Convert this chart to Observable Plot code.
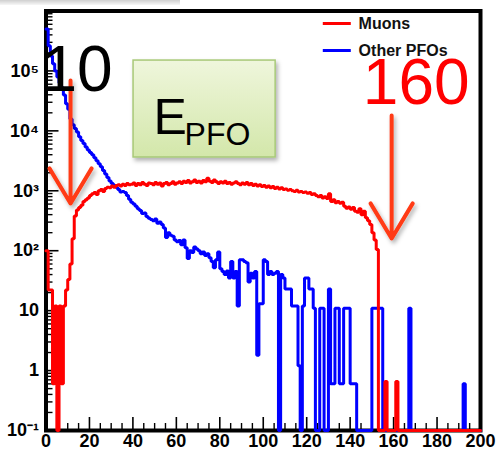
<!DOCTYPE html>
<html><head><meta charset="utf-8">
<script src="https://cdn.jsdelivr.net/npm/d3@7"></script>
<script src="https://cdn.jsdelivr.net/npm/@observablehq/plot@0.6"></script>
<style>
html,body{margin:0;padding:0;background:#fff;}
#chart{position:relative;width:500px;height:451px;overflow:hidden;}
#shade{position:absolute;left:0;top:0;width:180px;height:5px;background:linear-gradient(to bottom,#cfcfcf,#f7f7f7);z-index:2;}
</style></head><body>
<div id="chart"><div id="shade"></div></div>
<script>
// ---- histogram binning (E_PFO, GeV) ----
const binLow = 0, binWidth = 1, nBins = 200;

// ---- series values (bin contents) ----
const otherPFOs = [
  500000, 263000, 178000, 132000, 100000, 79400, 63100, 52500, 39800, 28200,
  22900, 15800, 12600, 11000, 9550, 7940, 6920, 6170, 5370, 4790,
  4370, 3980, 3550, 3160, 2820, 2510, 2190, 1910, 1660, 1450,
  1320, 1230, 1150, 1050, 955, 977, 933, 832, 724, 646,
  603, 550, 501, 468, 417, 427, 372, 347, 331, 316,
  339, 288, 302, 275, 240, 166, 200, 182, 174, 151,
  141, 148, 126, 151, 112, 74, 100, 93, 115, 107,
  100, 89, 95, 83, 89, 76, 66, 52, 71, 95,
  50, 45, 40, 46, 35, 66, 35, 45, 12, 71,
  71, 66, 63, 30, 42, 35, 45, 1.8, 13, 13,
  71, 66, 40, 45, 40, 42, 45, 0, 40, 35,
  23, 23, 23, 12, 12, 12, 1.2, 0, 12, 35,
  35, 23, 23, 11, 0, 0, 11, 11, 0, 0,
  23, 0.6, 0.6, 11, 11, 0.6, 0.6, 11, 11, 11,
  0.6, 0.6, 0.6, 0, 0, 0, 0, 0, 0, 0,
  11, 11, 11, 11, 11, 0, 0, 0, 0, 0,
  0, 0, 0, 0, 0, 0, 0, 11, 0, 0,
  0, 0, 0, 0, 0, 0, 0, 0, 0, 0,
  0, 0, 0, 0, 0, 0, 0, 0, 0, 0,
  0, 0, 0.6, 0, 0, 0, 0, 0, 0, 0
];
const muons = [
  100, 22, 22, 0.6, 12, 0, 12, 0.6, 12, 22,
  33, 60, 158, 380, 479, 525, 575, 661, 708, 759,
  832, 891, 933, 871, 1000, 1047, 977, 1096, 1148, 1122,
  1202, 1148, 1230, 1259, 1202, 1288, 1230, 1318, 1259, 1288,
  1349, 1230, 1318, 1259, 1380, 1288, 1230, 1349, 1318, 1259,
  1380, 1288, 1349, 1202, 1318, 1380, 1259, 1318, 1413, 1288,
  1349, 1413, 1318, 1445, 1380, 1479, 1349, 1413, 1514, 1380,
  1445, 1349, 1479, 1413, 1622, 1445, 1380, 1514, 1413, 1318,
  1413, 1349, 1445, 1318, 1380, 1288, 1349, 1413, 1318, 1259,
  1349, 1288, 1380, 1259, 1318, 1230, 1288, 1202, 1259, 1175,
  1230, 1148, 1202, 1122, 1175, 1096, 1148, 1072, 1122, 1047,
  1072, 1023, 1047, 1000, 977, 1023, 955, 977, 933, 955,
  912, 933, 871, 891, 832, 794, 832, 759, 794, 741,
  891, 661, 708, 631, 661, 617, 646, 550, 513, 537,
  490, 525, 457, 437, 501, 398, 457, 355, 316, 275,
  200, 151, 105, 0, 0, 0, 0.66, 0, 0, 0,
  0, 0.66, 0, 0, 0, 0, 0, 0, 0, 0,
  0, 0, 0, 0, 0, 0, 0, 0, 0, 0,
  0, 0, 0, 0, 0, 0, 0, 0, 0, 0,
  0, 0, 0, 0, 0, 0, 0, 0, 0, 0
];

const seriesNames = ["Muons", "Other PFOs"];
const seriesColors = ["#ff0000", "#0000ff"];

// ---- axes / tick labels ----
const xDomain = [0, 200];
const yDomain = [0.1, 1e6];
const xTicksMajor = [0, 20, 40, 60, 80, 100, 120, 140, 160, 180, 200];
const xTicksMinor = d3.range(0, 201, 5).filter(v => v % 20 !== 0);
const yTicksMajor = [0.1, 1, 10, 100, 1000, 10000, 100000];
const yTickLabels = ["10\u207B\u00B9", "1", "10", "10\u00B2", "10\u00B3", "10\u2074", "10\u2075"];
const yTicksMinor = [0.1, 1, 10, 100, 1000, 10000, 100000].flatMap(d => [2,3,4,5,6,7,8,9].map(m => d * m));

// ---- slide annotations (in data coordinates) ----
const cutLabels = ["10", "160"];
const cutLabelColors = ["#000000", "#ff0000"];
const cutLabelX = [14.3, 170.4];
const cutLabelY = [47100, 28600];
const cutArrowX = [11.3, 159.1];
const cutArrowTop = [69200, 18000];
const cutArrowTip = [614, 160];
const boxX = [40.3, 105.7];
const boxY = [3594, 149000];
const boxMain = "E", boxSub = "PFO";
const boxMainPos = [49.5, 9030];
const boxSubPos = [63.8, 5700];
const legendLineX = [127.4, 140.3];
const legendY = [618000, 219000];
const legendTextX = 143.9;

// ---- build tables ----
function toSteps(vals) {
  const pts = vals.map((v, i) => ({x: binLow + i * binWidth, y: Math.max(v, yDomain[0])}));
  pts.push({x: binLow + vals.length * binWidth, y: Math.max(vals[vals.length - 1], yDomain[0])});
  return pts;
}
const muonSteps = toSteps(muons);
const otherSteps = toSteps(otherPFOs);
const cuts = cutLabels.map((t, i) => ({t, c: cutLabelColors[i], x: cutLabelX[i], y: cutLabelY[i], ax: cutArrowX[i], a1: cutArrowTop[i], a2: cutArrowTip[i]}));
const legend = seriesNames.map((n, i) => ({n, c: seriesColors[i], y: legendY[i]}));

const W = 500, H = 451, mL = 45.5, mR = 20, mT = 10.5, mB = 21;
const plotW = W - mL - mR, plotH = H - mT - mB;
const font = "'Liberation Sans', Arial, Helvetica, sans-serif";

const plot = Plot.plot({
  width: W, height: H,
  marginLeft: mL, marginRight: mR, marginTop: mT, marginBottom: mB,
  style: {fontFamily: font, background: "#fff", color: "#000"},
  x: {domain: xDomain},
  y: {type: "log", domain: yDomain},
  color: {type: "identity"},
  marks: [
    Plot.frame({stroke: "#000", strokeWidth: 4}),
    // inward ROOT-style ticks
    Plot.tickY(yTicksMajor, {y: d => d, stroke: "#000", strokeWidth: 1.6, insetRight: plotW - 13}),
    Plot.tickY(yTicksMinor, {y: d => d, stroke: "#000", strokeWidth: 1.4, insetRight: plotW - 7}),
    Plot.tickX(xTicksMajor, {x: d => d, stroke: "#000", strokeWidth: 1.6, insetTop: plotH - 13}),
    Plot.tickX(xTicksMinor, {x: d => d, stroke: "#000", strokeWidth: 1.4, insetTop: plotH - 7}),
    Plot.axisY(yTicksMajor, {anchor: "left", tickSize: 0, tickPadding: 7, label: null,
      tickFormat: d => yTickLabels[yTicksMajor.indexOf(d)], fontSize: 18, fontWeight: "bold"}),
    Plot.axisX(xTicksMajor, {anchor: "bottom", tickSize: 0, tickPadding: 4, label: null,
      fontSize: 18, fontWeight: "bold"}),
    // histograms
    Plot.line(otherSteps, {x: "x", y: "y", curve: "step-after", stroke: seriesColors[1], strokeWidth: 3, strokeLinejoin: "miter"}),
    Plot.line(muonSteps, {x: "x", y: "y", curve: "step-after", stroke: seriesColors[0], strokeWidth: 3, strokeLinejoin: "miter"}),
    // legend
    Plot.link(legend, {x1: legendLineX[0], x2: legendLineX[1], y1: "y", y2: "y", stroke: "c", strokeWidth: 3}),
    Plot.text(legend, {x: legendTextX, y: "y", text: "n", textAnchor: "start", lineAnchor: "middle",
      fontSize: 16, fontWeight: "bold", fill: "#111"}),
    // green label box
    Plot.rect([0], {x1: boxX[0], x2: boxX[1], y1: boxY[0], y2: boxY[1], fill: "url(#boxFill)", stroke: "#a8c978", strokeWidth: 1.5}),
    Plot.text([boxMain], {x: boxMainPos[0], y: boxMainPos[1], text: d => d, textAnchor: "start", lineAnchor: "bottom", fontSize: 50, fill: "#000"}),
    Plot.text([boxSub], {x: boxSubPos[0], y: boxSubPos[1], text: d => d, textAnchor: "start", lineAnchor: "bottom", fontSize: 32, fill: "#000"}),
    // cut annotations
    Plot.arrow(cuts, {x1: "ax", x2: "ax", y1: "a1", y2: "a2", stroke: "#ff3a14", strokeWidth: 4, headLength: 23, headAngle: 62}),
    Plot.text(cuts, {x: "x", y: "y", text: "t", fill: "c", fontSize: 64, textAnchor: "middle", lineAnchor: "bottom"})
  ]
});

const svg = d3.select(plot);
svg.insert("defs", ":first-child").html(
  '<linearGradient id="boxFill" x1="0" y1="0" x2="0" y2="1">' +
  '<stop offset="0" stop-color="#eff6dc"/><stop offset="1" stop-color="#d3e7aa"/></linearGradient>' +
  '<filter id="dropShadow" x="-20%" y="-20%" width="150%" height="150%">' +
  '<feDropShadow dx="2" dy="3" stdDeviation="2" flood-color="#000" flood-opacity="0.3"/></filter>'
);
svg.selectAll('g[aria-label="rect"], g[aria-label="arrow"]').attr("filter", "url(#dropShadow)");
document.getElementById("chart").appendChild(plot);
</script>
</body></html>
